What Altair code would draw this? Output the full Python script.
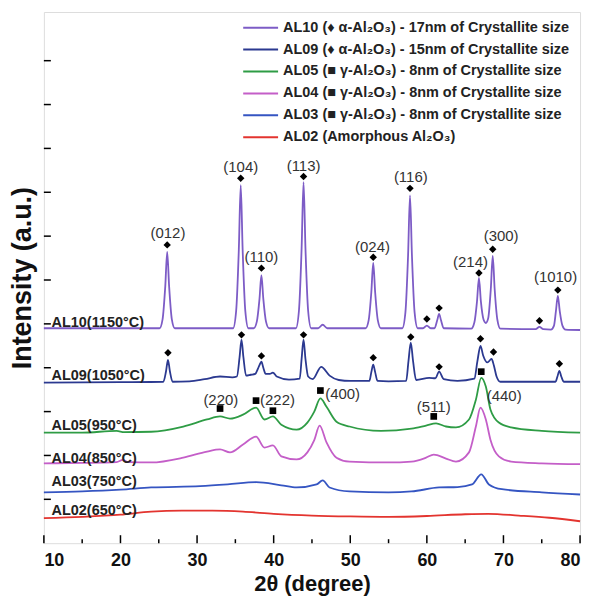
import altair as alt
import pandas as pd

FONT = "Liberation Sans"

# ---------------- data ----------------
x_ticks_major = [10, 20, 30, 40, 50, 60, 70, 80]
x_ticks_minor = [15, 25, 35, 45, 55, 65, 75]
y_ticks = [100, 200, 300, 400, 500, 600, 700, 800, 900, 1000, 1100]

series_names = [
    "AL10 (\u2666 \u03b1-Al\u2082O\u2083) - 17nm of Crystallite size",
    "AL09 (\u2666 \u03b1-Al\u2082O\u2083) - 15nm of Crystallite size",
    "AL05 (\u25a0 \u03b3-Al\u2082O\u2083) - 8nm of Crystallite size",
    "AL04 (\u25a0 \u03b3-Al\u2082O\u2083) - 8nm of Crystallite size",
    "AL03 (\u25a0 \u03b3-Al\u2082O\u2083) - 8nm of Crystallite size",
    "AL02 (Amorphous Al\u2082O\u2083)",
]
series_colors = ["#7d5cc6", "#2b3990", "#2e9c45", "#c45ec8", "#3555c2", "#e3342f"]

sample_labels = ["AL10(1150\u00b0C)", "AL09(1050\u00b0C)", "AL05(950\u00b0C)",
                 "AL04(850\u00b0C)", "AL03(750\u00b0C)", "AL02(650\u00b0C)"]
sample_label_x = [11.0, 11.0, 11.0, 11.0, 11.0, 11.0]
sample_label_y = [502, 382, 266, 191, 139, 73]

AL10 = [(10, 490), (20, 490), (25.1, 490), (25.5, 511), (25.85, 586), (26.1, 664), (26.35, 586),
        (26.7, 511), (27.1, 490), (33, 490), (34.7, 490), (35.1, 529), (35.45, 669), (35.7, 816),
        (35.95, 669), (36.3, 529), (36.7, 490), (37.4, 490), (37.8, 505), (38.15, 557), (38.4, 611),
        (38.65, 557), (39.0, 505), (39.4, 490), (42.9, 490), (43.3, 530), (43.65, 673), (43.9, 823),
        (44.15, 673), (44.5, 530), (44.9, 490), (45.8, 490), (46.4, 498), (47.0, 490), (52.0, 490),
        (52.4, 508), (52.75, 572), (53.0, 639), (53.25, 572), (53.6, 508), (54.0, 490), (56.8, 490),
        (57.2, 526), (57.55, 657), (57.8, 793), (58.05, 657), (58.4, 526), (58.8, 490), (59.5, 490),
        (60.0, 496), (60.5, 490), (61.0, 490), (61.35, 508), (61.6, 523), (61.85, 508), (62.2, 490),
        (65.8, 489), (66.2, 503), (66.55, 552), (66.8, 605), (67.05, 552), (67.4, 510), (67.7, 502),
        (68.0, 512), (68.35, 580), (68.6, 655), (68.85, 580), (69.2, 510), (69.6, 489), (74.2, 488),
        (74.7, 493), (75.2, 488), (76.2, 487), (76.6, 496), (76.85, 529), (77.1, 564), (77.35, 529),
        (77.7, 496), (78.1, 487), (80, 486)]

AL09 = [(10, 366), (20, 367), (25.6, 368), (25.95, 392), (26.2, 418), (26.45, 392), (26.8, 368),
        (29, 369), (31, 374), (33, 380), (34.6, 378), (35.2, 380), (35.55, 424), (35.8, 464),
        (36.05, 424), (36.4, 382), (37.0, 384), (37.6, 386), (37.95, 398), (38.15, 406), (38.4, 414),
        (38.65, 400), (38.95, 386), (39.5, 386), (39.9, 389), (40.4, 380), (42.0, 373), (43.4, 375),
        (43.65, 420), (43.9, 464), (44.15, 420), (44.5, 380), (45.1, 374), (46.2, 402), (47.3, 382),
        (48.5, 372), (50, 370), (52.5, 370), (52.75, 390), (53.0, 407), (53.25, 390), (53.55, 370),
        (55, 369), (57.3, 370), (57.6, 415), (57.9, 457), (58.2, 415), (58.6, 372), (60.3, 377),
        (61.1, 376), (61.6, 391), (62.2, 374), (64, 370), (66.2, 375), (66.6, 415), (67.0, 450),
        (67.35, 428), (67.9, 412), (68.45, 420), (68.75, 405), (69.1, 380), (69.6, 368), (72, 368),
        (76.8, 368), (77.05, 380), (77.3, 393), (77.55, 380), (77.9, 368), (80, 368)]

AL05 = [(10, 252), (15, 252), (19.5, 256), (20.5, 253), (24, 254), (28.2, 266), (31.3, 282),
        (33, 289), (34.3, 284), (36, 293), (37.7, 309), (38.8, 282), (39.9, 289), (41, 270),
        (43, 259), (44.4, 275), (45.3, 300), (46.1, 330), (46.9, 311), (48.2, 277), (49.9, 266),
        (54, 256), (58, 261), (59.9, 268), (61.2, 273), (62.5, 266), (63.8, 264), (65.5, 282),
        (66.4, 327), (67.1, 377), (67.7, 357), (68.3, 305), (69.4, 275), (71, 264), (75, 256),
        (80, 252)]

AL04 = [(10, 182), (15, 183), (19.5, 185), (20.3, 190), (21, 185), (24, 184), (28.2, 195),
        (31.3, 209), (33, 214), (34.3, 207), (36, 225), (37.7, 243), (38.8, 218), (39.9, 223),
        (41, 198), (43, 191), (44.4, 207), (45.3, 235), (46.0, 268), (46.9, 230), (48.2, 195),
        (49.9, 186), (55, 184), (58, 186), (59.9, 195), (60.9, 202), (62.5, 193), (63.8, 186),
        (65.5, 207), (66.4, 266), (67.0, 309), (67.7, 282), (68.3, 236), (69.4, 198), (71, 186),
        (75, 182), (80, 180)]

AL03 = [(10, 116), (15, 118), (20, 122), (24, 127), (30.4, 130), (34, 134), (37.7, 139), (41, 132),
        (43, 127), (45.6, 134), (46.4, 143), (47.3, 127), (49.9, 118), (55, 116), (58, 118),
        (61.6, 127), (64, 128), (65.9, 134), (67.1, 157), (68.1, 134), (69.8, 123), (75, 116),
        (80, 111)]

AL02 = [(10, 57), (15, 60), (20, 65), (24, 72), (28, 74), (32, 74), (36, 72), (40, 67), (45, 63),
        (50, 61), (55, 60), (60, 62), (65, 66), (68, 67), (72, 63), (76, 58), (80, 50)]

alpha_marks = [(26.1, 680), (35.7, 832), (38.4, 627), (43.9, 836), (53.0, 652), (57.8, 809),
               (60.0, 511), (61.6, 536), (66.8, 616), (68.6, 670), (74.7, 507), (77.1, 577),
               (26.2, 434), (35.8, 475), (38.4, 427), (43.9, 475), (53.0, 423), (57.9, 470),
               (61.6, 402), (67.0, 466), (68.7, 436), (77.3, 409)]
gamma_marks = [(33.0, 307), (37.7, 325), (39.9, 302), (46.1, 348), (60.9, 289), (67.1, 391)]

hkl_labels = [("(012)", 26.2, 707), ("(104)", 35.7, 857), ("(110)", 38.4, 652),
              ("(113)", 43.9, 861), ("(024)", 52.9, 675), ("(116)", 57.9, 834),
              ("(214)", 65.7, 641), ("(300)", 69.7, 700), ("(1010)", 76.8, 607),
              ("(220)", 33.1, 327), ("(222)", 40.5, 327), ("(400)", 49.0, 339),
              ("(511)", 60.9, 311), ("(440)", 70.1, 336)]

# ---------------- tables ----------------
rows = []
for i, (name, pts) in enumerate(zip(series_names, [AL10, AL09, AL05, AL04, AL03, AL02])):
    for x, y in pts:
        rows.append({"series": name, "x": x, "y": y, "order": i})
lines_df = pd.DataFrame(rows)

labels_df = pd.DataFrame({"label": sample_labels, "x": sample_label_x, "y": sample_label_y})
alpha_df = pd.DataFrame(alpha_marks, columns=["x", "y"])
gamma_df = pd.DataFrame(gamma_marks, columns=["x", "y"])
hkl_df = pd.DataFrame(hkl_labels, columns=["label", "x", "y"])
xmaj_df = pd.DataFrame({"x": x_ticks_major})
xmin_df = pd.DataFrame({"x": x_ticks_minor})
yt_df = pd.DataFrame({"y": y_ticks})

H = 533
W = 538

x_enc = alt.X("x:Q", scale=alt.Scale(domain=[10, 80], nice=False, zero=False),
              axis=alt.Axis(values=x_ticks_major, labelFont=FONT, labelFontSize=18,
                            labelFontWeight="bold", labelColor="#111", ticks=False,
                            domain=False, grid=False, labelPadding=8,
                            title="2\u03b8 (degree)", titleFont=FONT, titleFontSize=22,
                            titleFontWeight="bold", titleColor="#111", titlePadding=4))
y_enc = alt.Y("y:Q", scale=alt.Scale(domain=[0, 1211], nice=False, zero=False),
              axis=alt.Axis(labels=False, ticks=False, domain=False, grid=False,
                            title="Intensity (a.u.)", titleFont=FONT, titleFontSize=27,
                            titleFontWeight="bold", titleColor="#111", titlePadding=7))

lines = alt.Chart(lines_df).mark_line(strokeWidth=1.8, interpolate="monotone").encode(
    x=x_enc, y=y_enc,
    color=alt.Color("series:N", sort=series_names,
                    scale=alt.Scale(domain=series_names, range=series_colors),
                    legend=alt.Legend(title=None, orient="none", legendX=199, legendY=6,
                                      symbolType="stroke", symbolSize=1225,
                                      symbolStrokeWidth=2, labelFont=FONT,
                                      labelFontSize=14.5, labelFontWeight="bold",
                                      labelColor="#222", labelLimit=600,
                                      clipHeight=19.4, rowPadding=2, padding=0,
                                      labelOffset=4, direction="vertical")),
    detail="series:N",
    order="order:Q",
)

sample_text = alt.Chart(labels_df).mark_text(
    align="left", baseline="middle", font=FONT, fontSize=14.5, fontWeight="bold", color="#222"
).encode(x="x:Q", y="y:Q", text="label:N")

diamonds = alt.Chart(alpha_df).mark_point(shape="diamond", filled=True, color="black",
                                          size=55, opacity=1).encode(x="x:Q", y="y:Q")
squares = alt.Chart(gamma_df).mark_point(shape="square", filled=True, color="black",
                                         size=45, opacity=1).encode(x="x:Q", y="y:Q")
hkl = alt.Chart(hkl_df).mark_text(font=FONT, fontSize=15, color="#333",
                                  baseline="middle").encode(x="x:Q", y="y:Q", text="label:N")

xmaj = alt.Chart(xmaj_df).mark_rule(color="black", strokeWidth=1.5).encode(
    x="x:Q", y=alt.value(H), y2=alt.value(H - 8))
xmin = alt.Chart(xmin_df).mark_rule(color="black", strokeWidth=1.5).encode(
    x="x:Q", y=alt.value(H), y2=alt.value(H - 4))
ytk = alt.Chart(yt_df).mark_rule(color="black", strokeWidth=1.5).encode(
    y="y:Q", x=alt.value(0), x2=alt.value(7))

chart = alt.layer(lines, sample_text, diamonds, squares, hkl, xmaj, xmin, ytk).properties(
    width=W, height=H,
    autosize=alt.AutoSizeParams(type="none"),
    padding={"left": 36, "top": 3, "right": 14, "bottom": 55},
).configure_view(stroke="black", strokeWidth=1.6).configure(background="white")

chart.save("out.html", embed_options={"renderer": "svg", "actions": False})
